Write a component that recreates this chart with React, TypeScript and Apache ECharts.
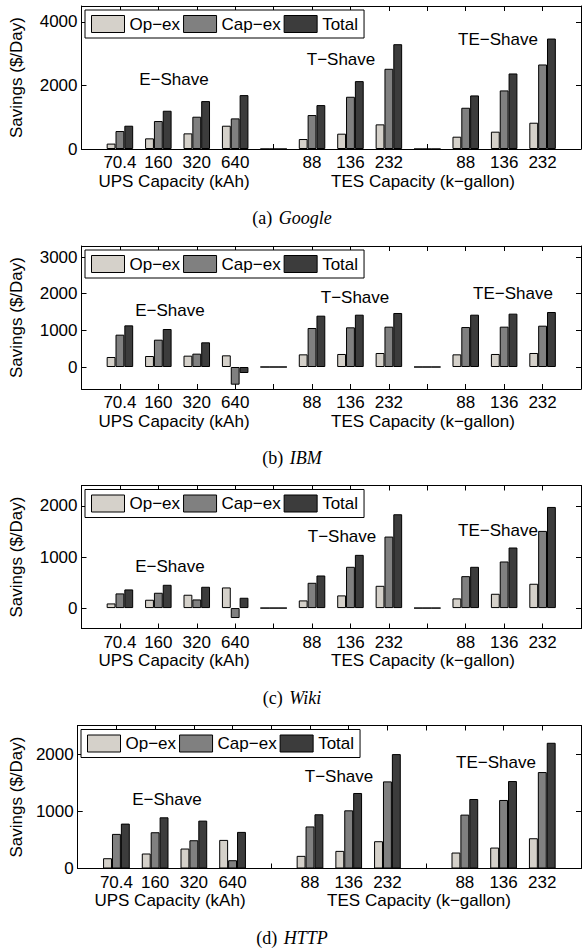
import React, { useEffect, useRef } from 'react';
import * as echarts from 'echarts';

// ---------- data ----------
const categories = ['70.4', '160', '320', '640', '', '88', '136', '232', '', '88', '136', '232'];
const seriesNames = ['Op−ex', 'Cap−ex', 'Total'];
const groupLabels = ['E−Shave', 'T−Shave', 'TE−Shave'];
const xTitles = ['UPS Capacity (kAh)', 'TES Capacity (k−gallon)'];
const yTitle = 'Savings ($/Day)';
const captionLetters = ['(a)', '(b)', '(c)', '(d)'];
const captionNames = ['Google', 'IBM', 'Wiki', 'HTTP'];

const googleOpex = [170, 335, 492, 733, 0, 314, 482, 775, 0, 387, 545, 827];
const googleCapex = [565, 880, 1016, 963, 0, 1068, 1644, 2524, 0, 1298, 1843, 2660];
const googleTotal = [733, 1204, 1508, 1696, 0, 1382, 2136, 3298, 0, 1686, 2377, 3476];

const ibmOpex = [273, 300, 309, 318, 0, 345, 355, 382, 0, 345, 355, 382];
const ibmCapex = [882, 745, 364, -482, 0, 1064, 1082, 1100, 0, 1090, 1100, 1127];
const ibmTotal = [1136, 1036, 673, -164, 0, 1400, 1427, 1473, 0, 1427, 1455, 1500];

const wikiOpex = [91, 163, 261, 404, 0, 150, 248, 436, 0, 189, 280, 476];
const wikiCapex = [287, 300, 169, -195, 0, 495, 808, 1400, 0, 625, 912, 1511];
const wikiTotal = [365, 456, 417, 202, 0, 638, 1042, 1837, 0, 808, 1186, 1980];

const httpOpex = [180, 262, 349, 500, 0, 221, 308, 477, 0, 279, 366, 529];
const httpCapex = [605, 634, 494, 145, 0, 735, 1017, 1523, 0, 942, 1198, 1686];
const httpTotal = [785, 895, 837, 640, 0, 948, 1320, 2000, 0, 1215, 1529, 2198];

const yMins = [0, -600, -400, 0];
const yMaxs = [4500, 3300, 2400, 2500];
const yTicks = [
  [0, 2000, 4000],
  [0, 1000, 2000, 3000],
  [0, 1000, 2000],
  [0, 1000, 2000],
];

// ---------- layout / style ----------
const SANS = '"Liberation Sans", Arial, Helvetica, sans-serif';
const SERIF = '"Liberation Serif", "Times New Roman", serif';
const colors = ['#d5d1ca', '#808080', '#3c3c3c'];

const layouts = [
  { left: 76, top: 6, width: 511, height: 143, legendTop: 10,
    shave: [[174, 79], [341, 59], [498, 39]] },
  { left: 76, top: 246, width: 511, height: 143, legendTop: 250,
    shave: [[170, 310], [355, 297], [513, 293]] },
  { left: 76, top: 485.5, width: 511, height: 143, legendTop: 489.5,
    shave: [[170, 566], [342, 536], [498, 530]] },
  { left: 72, top: 725.5, width: 512, height: 143, legendTop: 729.5,
    shave: [[167, 799], [339, 776], [496, 762.5]] },
];

const panelData = [
  [googleOpex, googleCapex, googleTotal],
  [ibmOpex, ibmCapex, ibmTotal],
  [wikiOpex, wikiCapex, wikiTotal],
  [httpOpex, httpCapex, httpTotal],
];

function buildOption() {
  const grid: any[] = [];
  const xAxis: any[] = [];
  const yAxis: any[] = [];
  const series: any[] = [];
  const legend: any[] = [];
  const graphic: any[] = [];
  const axisData = ['', ...categories, ''];
  const lineStyle = { color: '#000', width: 1 };

  layouts.forEach((L, i) => {
    grid.push({ left: L.left, top: L.top, width: L.width, height: L.height });
    const bottomAxis = 2 * i;
    const leftAxis = 2 * i;
    xAxis.push({
      type: 'category', gridIndex: i, data: axisData, boundaryGap: false, position: 'bottom',
      axisLine: { show: true, onZero: false, lineStyle },
      axisTick: { show: true, inside: true, length: 5, interval: 0, lineStyle },
      axisLabel: { show: true, interval: 0, margin: 5, color: '#000', fontSize: 17, fontFamily: SANS },
      splitLine: { show: false },
    });
    xAxis.push({
      type: 'category', gridIndex: i, data: axisData, boundaryGap: false, position: 'top',
      axisLine: { show: true, onZero: false, lineStyle },
      axisTick: { show: true, inside: true, length: 5, interval: 0, lineStyle },
      axisLabel: { show: false },
      splitLine: { show: false },
    });
    yAxis.push({
      type: 'value', gridIndex: i, min: yMins[i], max: yMaxs[i], position: 'left',
      axisLine: { show: true, onZero: false, lineStyle },
      axisTick: { show: true, inside: true, length: 5, customValues: yTicks[i], lineStyle },
      axisLabel: {
        show: true, customValues: yTicks[i], margin: 4, color: '#000', fontSize: 17, fontFamily: SANS,
        formatter: (v: number) => String(Math.round(v)),
      },
      splitLine: { show: false },
      name: yTitle, nameLocation: 'middle', nameGap: L.left - 19.5,
      nameTextStyle: { color: '#000', fontSize: 17, fontFamily: SANS },
    });
    yAxis.push({
      type: 'value', gridIndex: i, min: yMins[i], max: yMaxs[i], position: 'right',
      axisLine: { show: true, onZero: false, lineStyle },
      axisTick: { show: true, inside: true, length: 5, customValues: yTicks[i], lineStyle },
      axisLabel: { show: false },
      splitLine: { show: false },
    });
    panelData[i].forEach((vals, s) => {
      series.push({
        type: 'bar', name: seriesNames[s], xAxisIndex: bottomAxis, yAxisIndex: leftAxis,
        data: ['-', ...vals, '-'],
        barGap: '0%', barCategoryGap: '31%',
        itemStyle: { color: colors[s], borderColor: '#000', borderWidth: 1 },
        emphasis: { disabled: true },
      });
    });
    legend.push({
      data: seriesNames, left: L.left + 9, top: L.legendTop, orient: 'horizontal',
      itemWidth: 33, itemHeight: 17, itemGap: 3, padding: [5, 6, 5, 6],
      borderColor: '#000', borderWidth: 1, backgroundColor: '#fff',
      icon: 'rect', selectedMode: false,
      itemStyle: { borderColor: '#000', borderWidth: 1 },
      textStyle: { color: '#000', fontSize: 17, fontFamily: SANS },
    });
    L.shave.forEach((pos, k) => {
      graphic.push({
        type: 'text', x: pos[0], y: pos[1], silent: true,
        style: { text: groupLabels[k], fill: '#000', font: '17px ' + SANS, textAlign: 'center', textVerticalAlign: 'middle' },
      });
    });
    const bottom = L.top + L.height;
    graphic.push({
      type: 'text', x: L.left + 98, y: bottom + 32, silent: true,
      style: { text: xTitles[0], fill: '#000', font: '17px ' + SANS, textAlign: 'center', textVerticalAlign: 'middle' },
    });
    graphic.push({
      type: 'text', x: L.left + 347, y: bottom + 32, silent: true,
      style: { text: xTitles[1], fill: '#000', font: '17px ' + SANS, textAlign: 'center', textVerticalAlign: 'middle' },
    });
    graphic.push({
      type: 'text', x: 292, y: bottom + 69, silent: true,
      style: {
        text: '{n|' + captionLetters[i] + '}  {it|' + captionNames[i] + '}',
        textAlign: 'center', textVerticalAlign: 'middle', fill: '#000',
        rich: {
          n: { fontFamily: SERIF, fontSize: 18, color: '#000' },
          it: { fontFamily: SERIF, fontSize: 18, fontStyle: 'italic', color: '#000' },
        },
      },
    });
  });

  return {
    animation: false,
    backgroundColor: '#fff',
    textStyle: { fontFamily: SANS },
    grid, xAxis, yAxis, series, legend, graphic,
  };
}

export default function App() {
  const ref = useRef<HTMLDivElement>(null);
  useEffect(() => {
    if (!ref.current) return;
    const chart = echarts.init(ref.current, undefined, { renderer: 'svg' });
    chart.setOption(buildOption() as any);
    return () => chart.dispose();
  }, []);
  return (
    <div
      ref={ref}
      style={{ position: 'absolute', left: 0, top: 0, width: 584, height: 950, background: '#fff' }}
    />
  );
}
